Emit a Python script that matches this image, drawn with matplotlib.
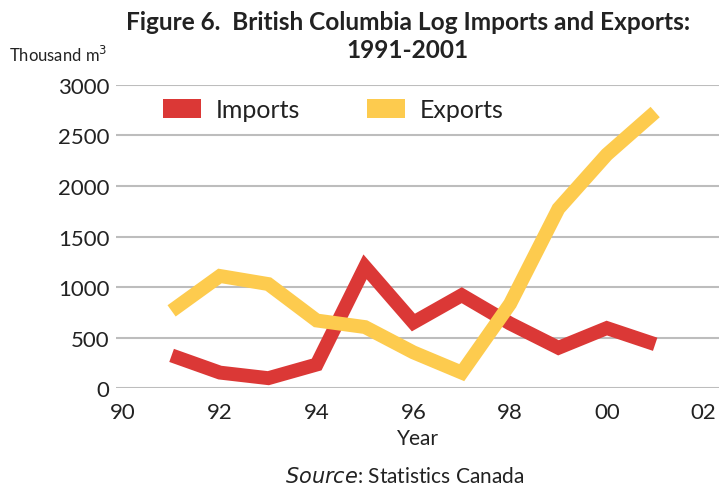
import matplotlib
matplotlib.use("Agg")
import matplotlib.pyplot as plt
from matplotlib.patches import Patch

plt.rcParams['font.family'] = ['Lato', 'DejaVu Sans']

years = [91, 92, 93, 94, 95, 96, 97, 98, 99, 100, 101]
imports = [325, 155, 100, 235, 1200, 650, 920, 640, 400, 595, 435]
exports = [765, 1110, 1030, 670, 605, 355, 155, 835, 1775, 2310, 2730]
xticks = [90, 92, 94, 96, 98, 100, 102]
xtick_labels = ['90', '92', '94', '96', '98', '00', '02']
yticks = [0, 500, 1000, 1500, 2000, 2500, 3000]

red = '#DB3836'
yellow = '#FDCB4E'
txt = '#222222'

fig = plt.figure(figsize=(7.19, 4.89), dpi=100)
ax = fig.add_axes([0.162, 0.2039, 0.838, 0.6208])

ax.plot(years, imports, color=red, lw=10, solid_joinstyle='miter', solid_capstyle='butt', zorder=3, clip_on=False)
ax.plot(years, exports, color=yellow, lw=10, solid_joinstyle='miter', solid_capstyle='butt', zorder=3, clip_on=False)

ax.set_xlim(89.86, 102.32)
ax.set_ylim(0, 3000)
ax.set_xticks(xticks)
ax.set_xticklabels(xtick_labels)
ax.set_yticks(yticks)
ax.grid(axis='y', color='#BDBDBD', lw=1.5)
ax.set_axisbelow(True)
for s in ax.spines.values():
    s.set_visible(False)
ax.tick_params(axis='both', length=0, labelsize=16, colors=txt)
ax.tick_params(axis='y', pad=5)
ax.tick_params(axis='x', pad=10)
ax.set_xlabel('Year', fontsize=15, color=txt, labelpad=4)

handles = [Patch(facecolor=red, edgecolor='none', label='Imports'),
           Patch(facecolor=yellow, edgecolor='none', label='Exports')]
leg = ax.legend(handles=handles, ncol=2, frameon=False, loc='upper left',
                bbox_to_anchor=(0.04, 1.03), fontsize=18, handlelength=1.5,
                handleheight=0.75, columnspacing=2.7, handletextpad=0.6)
for t in leg.get_texts():
    t.set_color(txt)

fig.text(0.567, 0.978, 'Figure 6.  British Columbia Log Imports and Exports:\n1991-2001',
         ha='center', va='top', fontsize=17.6, fontweight='bold', color=txt, linespacing=1.3)
fig.text(0.013, 0.887, 'Thousand m$^3$', ha='left', va='center', fontsize=12, color=txt)
fig.text(0.563, 0.005, r'$\it{Source}$: Statistics Canada', ha='center', va='bottom', fontsize=15, color=txt)

fig.savefig('out.png', dpi=100)
